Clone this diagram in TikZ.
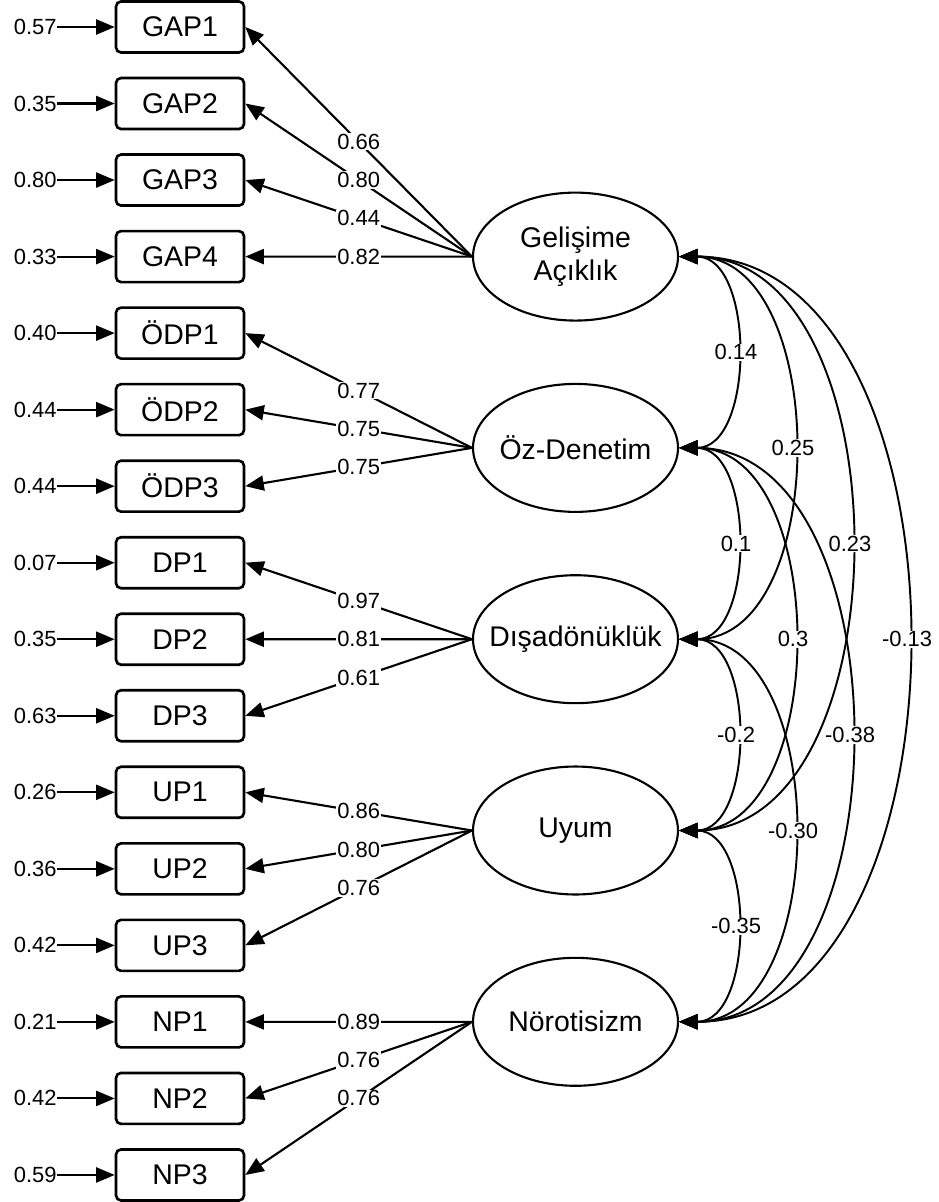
\documentclass[tikz,border=0pt]{standalone}
\usepackage{fontspec}
\setmainfont{Liberation Sans}
\usetikzlibrary{arrows.meta,shapes.geometric}
\begin{document}
\begin{tikzpicture}[x=0.02cm,y=-0.02cm]
\tikzset{
    item/.style={draw, line width=1.5pt, rounded corners=0.1cm, minimum width=2.56cm, minimum height=1.02cm, inner sep=0pt, font=\fontsize{16.2}{18}\selectfont},
    factor/.style={draw, ellipse, line width=1.2pt, minimum width=4.1cm, minimum height=2.56cm, inner ysep=0pt, inner xsep=-0.3cm, align=center, font=\fontsize{16.2}{18.7}\selectfont},
    resid/.style={inner sep=0pt, font=\fontsize{12.5}{14}\selectfont},
    load/.style={line width=1.2pt, -{Triangle[length=0.37cm,width=0.3cm]}},
    cov/.style={line width=1.1pt, {Triangle[length=0.37cm,width=0.3cm]}-{Triangle[length=0.37cm,width=0.3cm]}},
    coef/.style={fill=white, inner sep=0.5pt, font=\fontsize{12.5}{14}\selectfont}}
\def\dy{76.53}
\def\dc{76}

\useasboundingbox (0,0) rectangle (938,1202);

\node[factor] (F1) at (575.5,256.6) {Gelişime\\Açıklık};
\node[factor] (F2) at (575.5,447.9) {Öz-Denetim};
\node[factor] (F3) at (575.5,639.2) {Dışadönüklük};
\node[factor] (F4) at (575.5,830.5) {Uyum};
\node[factor] (F5) at (575.5,1021.8) {Nörotisizm};

\foreach \lab/\res/\f/\w [count=\i from 0] in {GAP1/0.57/1/0.66, GAP2/0.35/1/0.80, GAP3/0.80/1/0.44, GAP4/0.33/1/0.82,
    ÖDP1/0.40/2/0.77, ÖDP2/0.44/2/0.75, ÖDP3/0.44/2/0.75,
    DP1/0.07/3/0.97, DP2/0.35/3/0.81, DP3/0.63/3/0.61,
    UP1/0.26/4/0.86, UP2/0.36/4/0.80, UP3/0.42/4/0.76,
    NP1/0.21/5/0.89, NP2/0.42/5/0.76, NP3/0.59/5/0.76}{
    \node[item] (I\i) at (180,27+\i*\dy) {\lab};
    \node[resid, anchor=east] (E\i) at (57,27+\i*\dy) {\res};
    \draw[load] (E\i.east) -- (I\i.west);
    \draw[load] (F\f.west) -- (I\i.east) node[coef, midway] {\w};
}

\foreach \a/\b/\v in {1/2/0.14, 1/3/0.25, 1/4/0.23, 1/5/-0.13, 2/3/0.1, 2/4/0.3, 2/5/-0.38, 3/4/-0.2, 3/5/-0.30, 4/5/-0.35}{
    \draw[cov] (F\a.east) .. controls +({\dc*(\b-\a)},0) and +({\dc*(\b-\a)},0) .. (F\b.east) node[coef, pos=0.5] {\v};
}
\end{tikzpicture}
\end{document}
